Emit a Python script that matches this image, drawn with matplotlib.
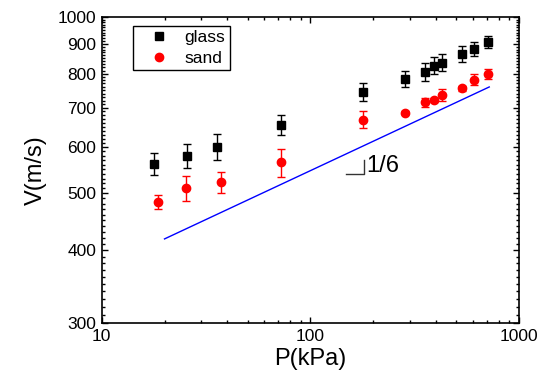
import numpy as np
import matplotlib
matplotlib.use('Agg')
import matplotlib.pyplot as plt
from matplotlib.ticker import FixedLocator, NullFormatter

plt.rcParams['font.family'] = ['Liberation Sans', 'DejaVu Sans']

# glass beads
glass_p = [17.8, 25.5, 35.5, 72, 179, 284, 355, 393, 429, 535, 608, 713]
glass_v = [562, 580, 601, 655, 745, 784, 806, 826, 836, 865, 882, 907]
glass_err = [24, 28, 31, 26, 27, 26, 27, 27, 28, 27, 25, 22]

# sand
sand_p = [18.7, 25.4, 37.3, 72.2, 178, 285, 355, 392, 429, 535, 608, 713]
sand_v = [483, 510, 522, 565, 668, 687, 715, 722, 736, 755, 782, 799]
sand_err = [13, 25, 21, 31, 22, 5, 12, 6, 17, 6, 18, 15]

# power law guide V ~ P^(1/6)
fit_p = [20, 720]
fit_prefactor = 253.7
slope = 1 / 6

x_ticks = [10, 100, 1000]
y_ticks = [300, 400, 500, 600, 700, 800, 900, 1000]

fig = plt.figure(figsize=(5.45, 3.8), dpi=100)
ax = fig.add_axes([0.1866, 0.1492, 0.9523 - 0.1866, 0.9553 - 0.1492])
ax.set_xscale('log')
ax.set_yscale('log')

fit_v = [fit_prefactor * p ** slope for p in fit_p]
ax.plot(fit_p, fit_v, color='#0000ff', lw=1.0, zorder=1)

ax.errorbar(glass_p, glass_v, yerr=glass_err, fmt='none', ecolor='black',
            elinewidth=1.0, capsize=2.8, capthick=1.0, zorder=2)
ax.errorbar(sand_p, sand_v, yerr=sand_err, fmt='none', ecolor='#ff0000',
            elinewidth=1.0, capsize=2.8, capthick=1.0, zorder=2)
ax.plot(glass_p, glass_v, 's', color='black', ms=5.2, mec='black', label='glass', zorder=3)
ax.plot(sand_p, sand_v, 'o', color='#ff0000', ms=6.0, mec='#ff0000', label='sand', zorder=3)

# slope marker
ax.plot([148, 181.5, 181.5], [539, 539, 571], color='#333333', lw=1.0)
ax.text(185, 556, '1/6', fontsize=17, ha='left', va='center')

ax.set_xlim(10, 1000)
ax.set_ylim(300, 1000)

ax.xaxis.set_major_locator(FixedLocator(x_ticks))
ax.set_xticklabels([str(t) for t in x_ticks])
ax.xaxis.set_minor_locator(FixedLocator([m * 10 ** d for d in (1, 2) for m in range(2, 10)]))
ax.xaxis.set_minor_formatter(NullFormatter())

ax.yaxis.set_major_locator(FixedLocator(y_ticks))
ax.set_yticklabels([str(t) for t in y_ticks])
ax.yaxis.set_minor_locator(FixedLocator([v for v in range(310, 1000, 10) if v % 100 != 0]))
ax.yaxis.set_minor_formatter(NullFormatter())

ax.tick_params(which='both', direction='in', top=True, right=True, width=1.0,
               labelsize=12.5, pad=4)
ax.tick_params(which='major', length=4.5)
ax.tick_params(which='minor', length=2.5)
for s in ax.spines.values():
    s.set_linewidth(1.2)

ax.set_xlabel('P(kPa)', fontsize=17, labelpad=3)
ax.set_ylabel('V(m/s)', fontsize=17, labelpad=8)

leg = ax.legend(loc='upper left', bbox_to_anchor=(0.076, 0.971), borderaxespad=0,
                fontsize=12.5, fancybox=False, framealpha=1, edgecolor='black',
                borderpad=0.25, labelspacing=0.3, handlelength=2.5, handletextpad=0.2)
leg.get_frame().set_linewidth(1.0)

fig.savefig('out.png', dpi=100)
